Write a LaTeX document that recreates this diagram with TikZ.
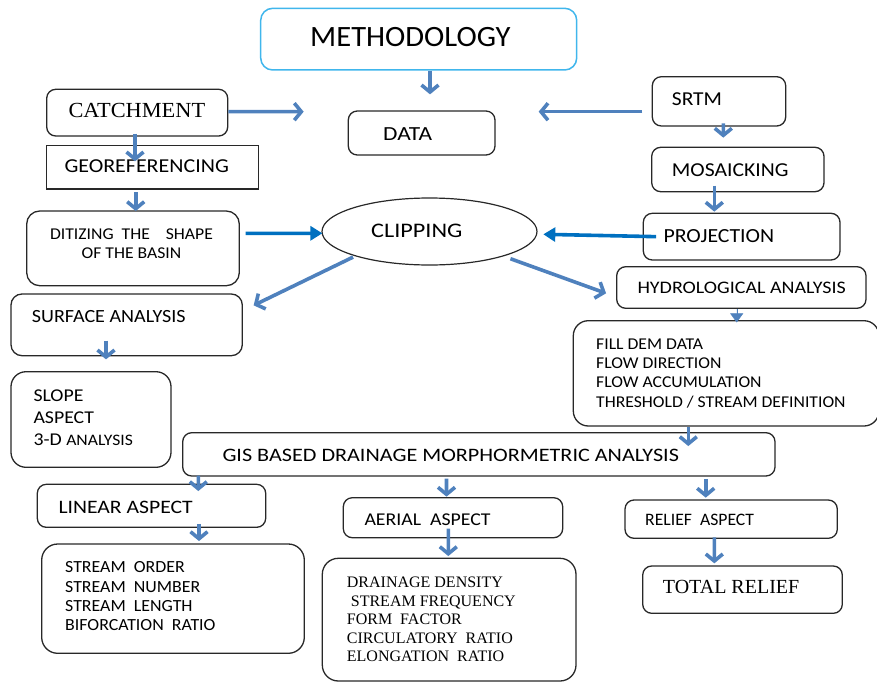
\documentclass[tikz,border=0pt]{standalone}
\usepackage{fontspec}
\usepackage{graphicx}
\usetikzlibrary{arrows.meta,shapes.geometric}
\newfontfamily\calfont{Carlito}
\newfontfamily\tmsfont{Liberation Serif}
\definecolor{ablue}{RGB}{79,129,189}
\definecolor{dblue}{RGB}{0,112,192}
\definecolor{cyanb}{RGB}{64,182,236}
\definecolor{bline}{RGB}{40,40,40}
\newcommand\fs[2]{\fontsize{#1}{#2}\selectfont}
\newcommand\hs[2]{\scalebox{#1}[1]{#2}}
\newcommand\bx[6]{\node[box,#6,minimum width={(#4-#2)*1pt},minimum height={(#5-#3)*1pt}] (#1) at ({(#2+#4)/2},{(#3+#5)/2}) {};}
\tikzset{
  box/.style={draw=bline,line width=1.3pt,rounded corners=9pt,inner sep=0pt},
  txt/.style={inner sep=0pt,text=black},
  arr/.style={draw=ablue,line width=3.6pt,-{Straight Barb[length=7pt,width=17pt]}},
  darr/.style={draw=dblue,line width=3.6pt,-{Triangle[length=12pt,width=14pt]}},
}
\begin{document}
\begin{tikzpicture}[x=1pt,y=-1pt]
\useasboundingbox (0,0) rectangle (877,682);
% boxes
\bx{meth}{260.7}{8.3}{576.7}{70}{draw=cyanb,line width=1.5pt,rounded corners=12pt}
\bx{data}{348.3}{111}{495}{155}{}
\bx{catch}{46.7}{89.3}{227.7}{136}{}
\bx{geo}{46.7}{145.7}{258.3}{189}{rounded corners=0pt}
\bx{dit}{26.7}{211}{239.3}{285.7}{rounded corners=13pt}
\node[draw=bline,line width=1.2pt,ellipse,minimum width=215pt,minimum height=67pt,inner sep=0pt] (clip) at (429.5,231.5) {};
\bx{srtm}{652.3}{76.7}{785.7}{126}{}
\bx{mos}{651.7}{147.3}{824}{191.7}{}
\bx{proj}{643.3}{213.3}{840}{260}{}
\bx{hydro}{616.7}{266.7}{866}{308.3}{}
\bx{fill}{573.3}{320.7}{879}{426}{rounded corners=15pt}
\bx{surf}{11}{294}{242.3}{355.7}{rounded corners=11pt}
\bx{slope}{11}{371.7}{171}{467.3}{rounded corners=15pt}
\bx{gis}{182.7}{432.7}{775}{476}{}
\bx{lin}{37.3}{484.3}{265.7}{527.3}{}
\bx{strm}{41.7}{544}{304.3}{653.3}{rounded corners=16pt}
\bx{aer}{343.3}{497.7}{562.7}{537.7}{}
\bx{drain}{322.3}{558.3}{576}{681}{rounded corners=16pt}
\bx{rel}{625}{500}{837.3}{538.3}{}
\bx{tot}{642.7}{566}{842.3}{613.3}{}
% texts
\node[txt,anchor=base west,font=\calfont\fs{29.5}{34}] (tmeth) at (310,47) {\hs{1.036}{METHODOLOGY}};
\node[txt,anchor=base west,font=\calfont\fs{20}{24}] (tdata) at (383,140) {\hs{1.17}{DATA}};
\node[txt,anchor=base west,font=\tmsfont\fs{21.5}{25}] (tcatch) at (68.3,117.3) {\hs{1.04}{CATCHMENT}};
\node[txt,anchor=base west,font=\calfont\fs{19.7}{24}] (tgeo) at (64.3,172.7) {\hs{1.115}{GEOREFERENCING}};
\node[txt,anchor=north,align=center,font=\calfont\fs{16.5}{19.3}] (tdit) at (131.5,228.3) {\hs{1.07}{DITIZING\ \ THE\ \ \ \ SHAPE}\\\hs{1.07}{OF THE BASIN}};
\node[txt,anchor=base west,font=\calfont\fs{20.7}{24}] (tclip) at (371,237.3) {\hs{1.17}{CLIPPING}};
\node[txt,anchor=base west,font=\calfont\fs{19.7}{24}] (tsrtm) at (671.7,106) {\hs{1.09}{SRTM}};
\node[txt,anchor=base west,font=\calfont\fs{19.7}{24}] (tmos) at (671.7,176) {\hs{1.10}{MOSAICKING}};
\node[txt,anchor=base west,font=\calfont\fs{20}{24}] (tproj) at (663.3,242.3) {\hs{1.09}{PROJECTION}};
\node[txt,anchor=base west,font=\calfont\fs{17.6}{21}] (thydro) at (637.3,293.3) {\hs{1.137}{HYDROLOGICAL ANALYSIS}};
\node[txt,anchor=north west,align=left,font=\calfont\fs{16.5}{19.4}] (tfill) at (596,338.3) {\hs{1.07}{FILL DEM DATA}\\\hs{1.07}{FLOW DIRECTION}\\\hs{1.07}{FLOW ACCUMULATION}\\\hs{1.07}{THRESHOLD / STREAM DEFINITION}};
\node[txt,anchor=base west,font=\calfont\fs{18.6}{22}] (tsurf) at (31.7,322.7) {\hs{1.08}{SURFACE ANALYSIS}};
\node[txt,anchor=north west,align=left,font=\calfont\fs{18}{21.7}] (tslope) at (33.3,390) {\hs{1.1}{SLOPE}\\\hs{1.1}{ASPECT}\\\hs{1.1}{3-D {\fs{16}{21.7}ANALYSIS}}};
\node[txt,anchor=base west,font=\calfont\fs{19}{23}] (tgis) at (222.3,461.7) {\hs{1.166}{GIS BASED DRAINAGE MORPHORMETRIC ANALYSIS}};
\node[txt,anchor=base west,font=\calfont\fs{19}{23}] (tlin) at (58.3,513.3) {\hs{1.14}{LINEAR ASPECT}};
\node[txt,anchor=north west,align=left,font=\calfont\fs{17}{19.3}] (tstrm) at (65,561.7) {\hs{1.05}{STREAM\ \ ORDER}\\\hs{1.05}{STREAM\ \ NUMBER}\\\hs{1.05}{STREAM\ \ LENGTH}\\\hs{1.05}{BIFORCATION\ \ RATIO}};
\node[txt,anchor=base west,font=\calfont\fs{18}{22}] (taer) at (364.3,525) {\hs{1.1}{AERIAL\ \ ASPECT}};
\node[txt,anchor=north west,align=left,font=\tmsfont\fs{16}{18.5}] (tdrain) at (346.7,577) {DRAINAGE DENSITY\\\ STREAM FREQUENCY\\FORM\ \ FACTOR\\CIRCULATORY\ \ RATIO\\ELONGATION\ \ RATIO};
\node[txt,anchor=base west,font=\calfont\fs{17.5}{21}] (trel) at (645,525.3) {\hs{1.01}{RELIEF\ \ ASPECT}};
\node[txt,anchor=base west,font=\tmsfont\fs{20}{24}] (ttot) at (662.7,593.3) {TOTAL RELIEF};
% connectors
\draw[arr,shorten >=16pt] ([xshift=11.3pt]meth.south) -- ([xshift=8.35pt]data.north);
\draw[arr,shorten >=44pt] ([yshift=1pt]catch.east) -- ([yshift=21.3pt]data.west);
\draw[arr,shorten <=9.3pt,shorten >=43pt] ([yshift=-10.35pt]srtm.west) -- ([yshift=21.3pt]data.east);
\draw[arr] ([xshift=-2.2pt,yshift=3pt]catch.south) -- ([xshift=-17.5pt,yshift=-16.3pt]geo.north);
\draw[arr] ([xshift=-16.8pt,yshift=-2.7pt]geo.south) -- ([xshift=2.7pt,yshift=-0.7pt]dit.north);
\draw[darr] ([xshift=5.7pt,yshift=15pt]dit.east) -- ([xshift=1pt,yshift=-1.8pt]clip.west);
\draw[darr] ([xshift=13.4pt]proj.west) -- ([xshift=5.7pt,yshift=-2.8pt]clip.east);
\draw[arr] ([xshift=4.3pt,yshift=3.3pt]srtm.south) -- ([xshift=-14.55pt,yshift=9pt]mos.north);
\draw[arr] ([xshift=-23.55pt,yshift=6.7pt]mos.south) -- ([xshift=-27.35pt,yshift=1pt]proj.north);
\draw[arr] ([yshift=-1.5pt]clip.south west) -- ([xshift=10.7pt,yshift=-12pt]surf.north east);
\draw[arr] ([xshift=4.5pt,yshift=-3.1pt]clip.south east) -- ([xshift=-10pt,yshift=-5.8pt]hydro.west);
\draw[draw=ablue,fill=ablue,line width=0.4pt,-{Triangle[length=9pt,width=13pt]}] ([xshift=-4.65pt]hydro.south) -- ([xshift=10.55pt,yshift=-2.4pt]fill.north);
\draw[arr] ([xshift=-20.65pt,yshift=15.7pt]surf.south) -- ([xshift=15pt,yshift=11.7pt]slope.north);
\draw[arr] ([xshift=-37.85pt]fill.south) -- ([xshift=209.45pt,yshift=-14pt]gis.north);
\draw[arr] ([xshift=-280.55pt,yshift=1pt]gis.south) -- ([xshift=46.8pt,yshift=-7.4pt]lin.north);
\draw[arr] ([xshift=-32.35pt,yshift=-2pt]gis.south) -- ([xshift=-6.5pt,yshift=0.4pt]aer.north);
\draw[arr] ([xshift=226.85pt,yshift=-2.3pt]gis.south) -- ([xshift=-25.45pt,yshift=1.7pt]rel.north);
\draw[arr] ([xshift=47.5pt,yshift=4pt]lin.south) -- ([xshift=26pt,yshift=2.3pt]strm.north);
\draw[arr] ([xshift=-4.7pt,yshift=9.7pt]aer.south) -- ([xshift=-0.85pt,yshift=1.6pt]drain.north);
\draw[arr] ([xshift=-16.85pt,yshift=1.6pt]rel.south) -- ([xshift=-28.2pt,yshift=2pt]tot.north);
\end{tikzpicture}
\end{document}
